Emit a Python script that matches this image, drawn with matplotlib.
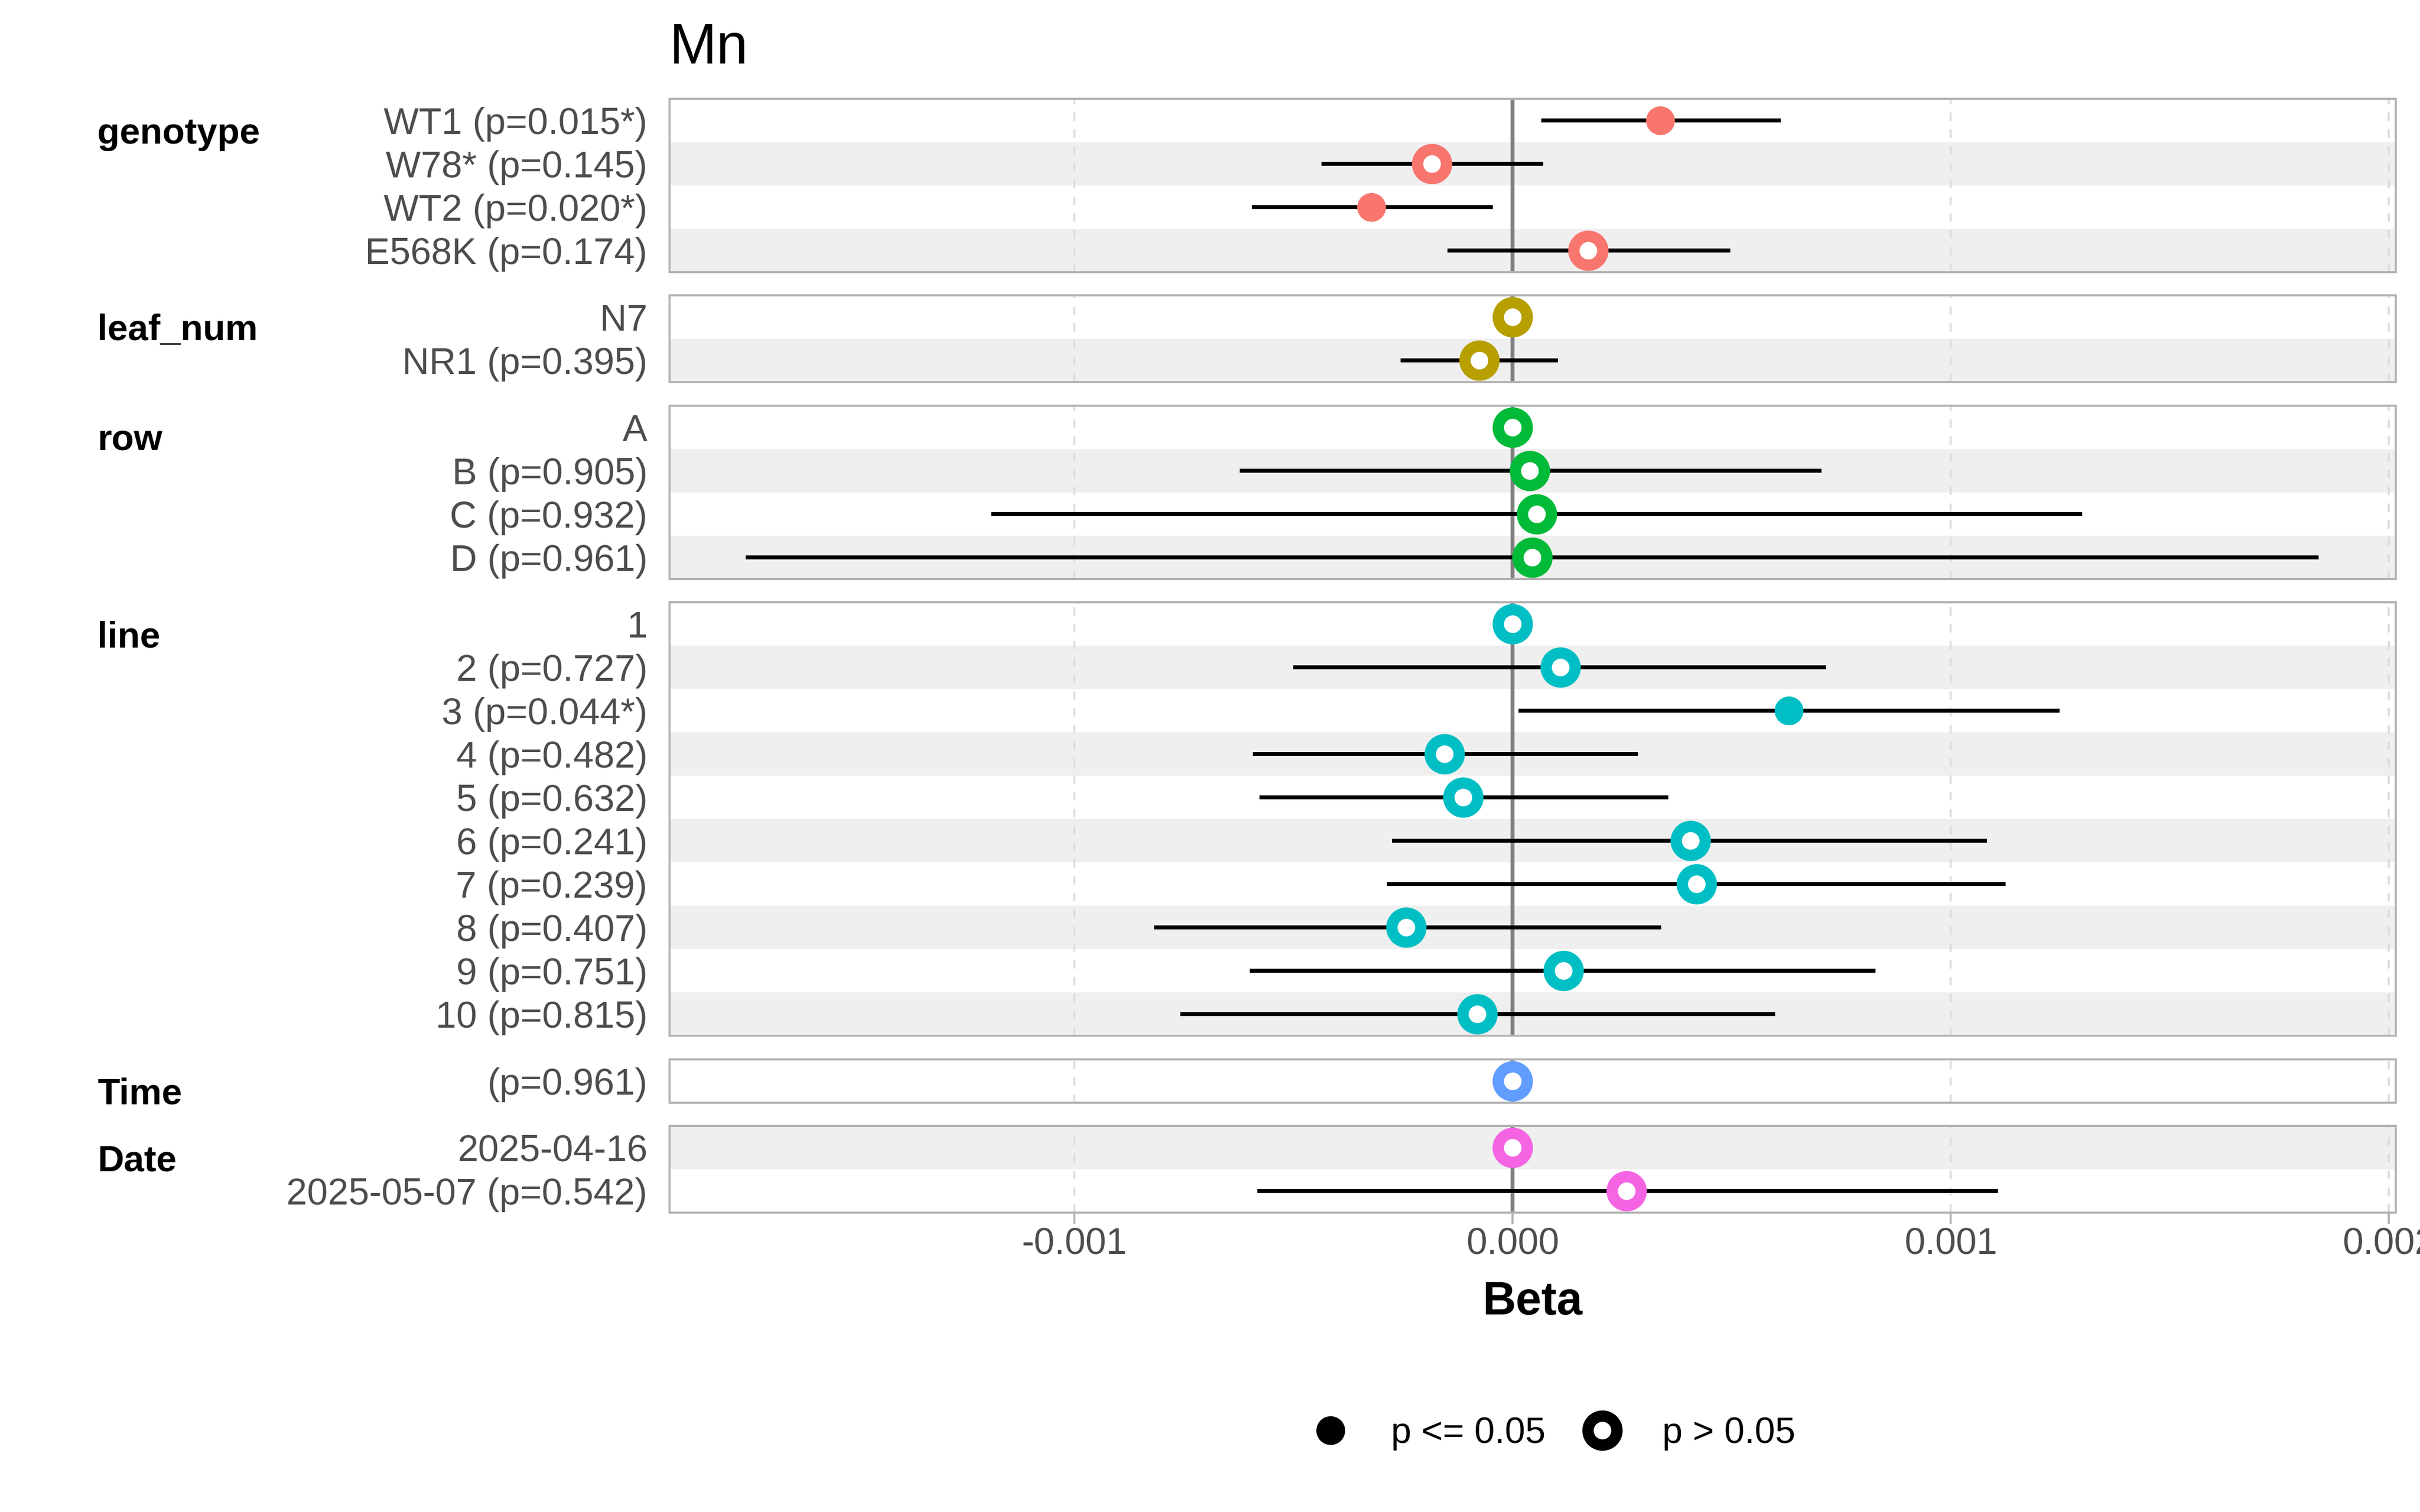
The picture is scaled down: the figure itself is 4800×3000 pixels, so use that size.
import numpy as np
import matplotlib.pyplot as plt
from matplotlib.lines import Line2D

plt.rcParams['font.family'] = ['Liberation Sans', 'DejaVu Sans']

# facet groups, in drawing order, with the ggplot hue colours
groups = ["genotype", "leaf_num", "row", "line", "Time", "Date"]
group_colors = ["#F8766D", "#B79F00", "#00BA38", "#00BFC4", "#619CFF", "#F564E3"]

# per group: terms, p values (None = reference level), beta and 95% CI
genotype_terms = ["WT1", "W78*", "WT2", "E568K"]
genotype_p = [0.015, 0.145, 0.020, 0.174]
genotype_beta = [0.000337, -0.000184, -0.000322, 0.000173]
genotype_lo = [0.000066, -0.000436, -0.000595, -0.000148]
genotype_hi = [0.000612, 0.000070, -0.000045, 0.000497]

leaf_terms = ["N7", "NR1"]
leaf_p = [None, 0.395]
leaf_beta = [0.0, -0.000076]
leaf_lo = [None, -0.000256]
leaf_hi = [None, 0.000104]

row_terms = ["A", "B", "C", "D"]
row_p = [None, 0.905, 0.932, 0.961]
row_beta = [0.0, 0.000039, 0.000055, 0.000045]
row_lo = [None, -0.000623, -0.001190, -0.001750]
row_hi = [None, 0.000705, 0.001300, 0.001840]

line_terms = ["1", "2", "3", "4", "5", "6", "7", "8", "9", "10"]
line_p = [None, 0.727, 0.044, 0.482, 0.632, 0.241, 0.239, 0.407, 0.751, 0.815]
line_beta = [0.0, 0.000109, 0.000630, -0.000155, -0.000113, 0.000406, 0.000420,
             -0.000243, 0.000116, -0.000081]
line_lo = [None, -0.000501, 0.000014, -0.000593, -0.000578, -0.000275, -0.000286,
           -0.000818, -0.000600, -0.000758]
line_hi = [None, 0.000716, 0.001249, 0.000286, 0.000356, 0.001083, 0.001125,
           0.000339, 0.000829, 0.000600]

time_terms = [""]
time_p = [0.961]
time_beta = [0.0]
time_lo = [-0.000002]
time_hi = [0.000002]

date_terms = ["2025-04-16", "2025-05-07"]
date_p = [None, 0.542]
date_beta = [0.0, 0.000260]
date_lo = [None, -0.000582]
date_hi = [None, 0.001108]

group_data = [
    (genotype_terms, genotype_p, genotype_beta, genotype_lo, genotype_hi),
    (leaf_terms, leaf_p, leaf_beta, leaf_lo, leaf_hi),
    (row_terms, row_p, row_beta, row_lo, row_hi),
    (line_terms, line_p, line_beta, line_lo, line_hi),
    (time_terms, time_p, time_beta, time_lo, time_hi),
    (date_terms, date_p, date_beta, date_lo, date_hi),
]

xtick_values = [-0.001, 0.0, 0.001, 0.002]
x_limits = (-0.001924, 0.002016)


def make_label(term, p):
    if p is None:
        return term
    star = "*" if p <= 0.05 else ""
    return f"{term} (p={p:.3f}{star})".strip()


W, H = 4800, 3000
fig = plt.figure(figsize=(16, 10), dpi=300)

# layout in pixels
left_px, right_px = 1328, 4752
top_px = 196
row_px = 86
gap_px = 46.4

border_col = "#B3B3B3"
band_col = "#EFEFEF"

y_cursor = top_px
global_idx = 0
for gi, (name, col, data) in enumerate(zip(groups, group_colors, group_data)):
    terms, pvals, beta, lo, hi = data
    n = len(terms)
    h = n * row_px
    ax = fig.add_axes([left_px / W, 1 - (y_cursor + h) / H,
                       (right_px - left_px) / W, h / H])

    ax.set_xlim(*x_limits)
    ax.set_ylim(n - 0.5, -0.5)

    # alternating background bands, counted across all panels
    for i in range(n):
        if (global_idx + i) % 2 == 1:
            ax.axhspan(i - 0.5, i + 0.5, color=band_col, lw=0, zorder=0)

    ax.set_xticks(xtick_values)
    ax.set_axisbelow(True)
    ax.grid(axis='x', color='#DCDCDC', ls=(0, (4, 4)), lw=1.0)
    ax.axvline(0, color='#808080', lw=1.85, zorder=1)

    for i in range(n):
        if lo[i] is not None:
            ax.hlines(i, lo[i], hi[i], color='black', lw=1.92, zorder=2)
        sig = pvals[i] is not None and pvals[i] <= 0.05
        if sig:
            ax.plot(beta[i], i, 'o', color=col, ms=13.7, mew=0, zorder=3)
        else:
            ax.plot(beta[i], i, 'o', mfc='white', mec=col, ms=13.8, mew=5.4,
                    zorder=3)

    ax.set_yticks(range(n))
    ax.set_yticklabels([make_label(t, p) for t, p in zip(terms, pvals)])
    ax.tick_params(axis='y', length=0, pad=10.5, labelsize=17.7,
                   labelcolor='#4D4D4D')

    if gi == len(groups) - 1:
        ax.set_xticklabels([f"{v:.3f}" for v in xtick_values])
        ax.tick_params(axis='x', length=5.3, width=1.0, color=border_col,
                       labelsize=17.7, labelcolor='#4D4D4D', pad=1.5)
    else:
        ax.tick_params(axis='x', length=0, labelbottom=False)

    for s in ax.spines.values():
        s.set_color(border_col)
        s.set_linewidth(0.96)

    # facet label on the left
    fig.text(193 / W, 1 - (y_cursor + 89) / H, name, fontsize=17.4,
             fontweight='bold', va='baseline', ha='left')

    global_idx += n
    y_cursor += h + gap_px

fig.text(left_px / W, 1 - 126 / H, "Mn", fontsize=27, va='baseline', ha='left')
fig.text(3040 / W, 1 - 2608 / H, "Beta", fontsize=22, fontweight='bold',
         ha='center', va='baseline')

handles = [
    Line2D([], [], marker='o', ls='none', color='black', ms=13.7, mew=0),
    Line2D([], [], marker='o', ls='none', mfc='white', mec='black', ms=13.8,
           mew=5.4),
]
fig.legend(handles, ["p <= 0.05", "p > 0.05"], loc='center',
           bbox_to_anchor=(3082 / W, 1 - 2845 / H), ncol=2, frameon=False,
           fontsize=17.4, handlelength=1.0, handletextpad=1.15,
           columnspacing=1.05)

fig.savefig("out.png", dpi=300)
